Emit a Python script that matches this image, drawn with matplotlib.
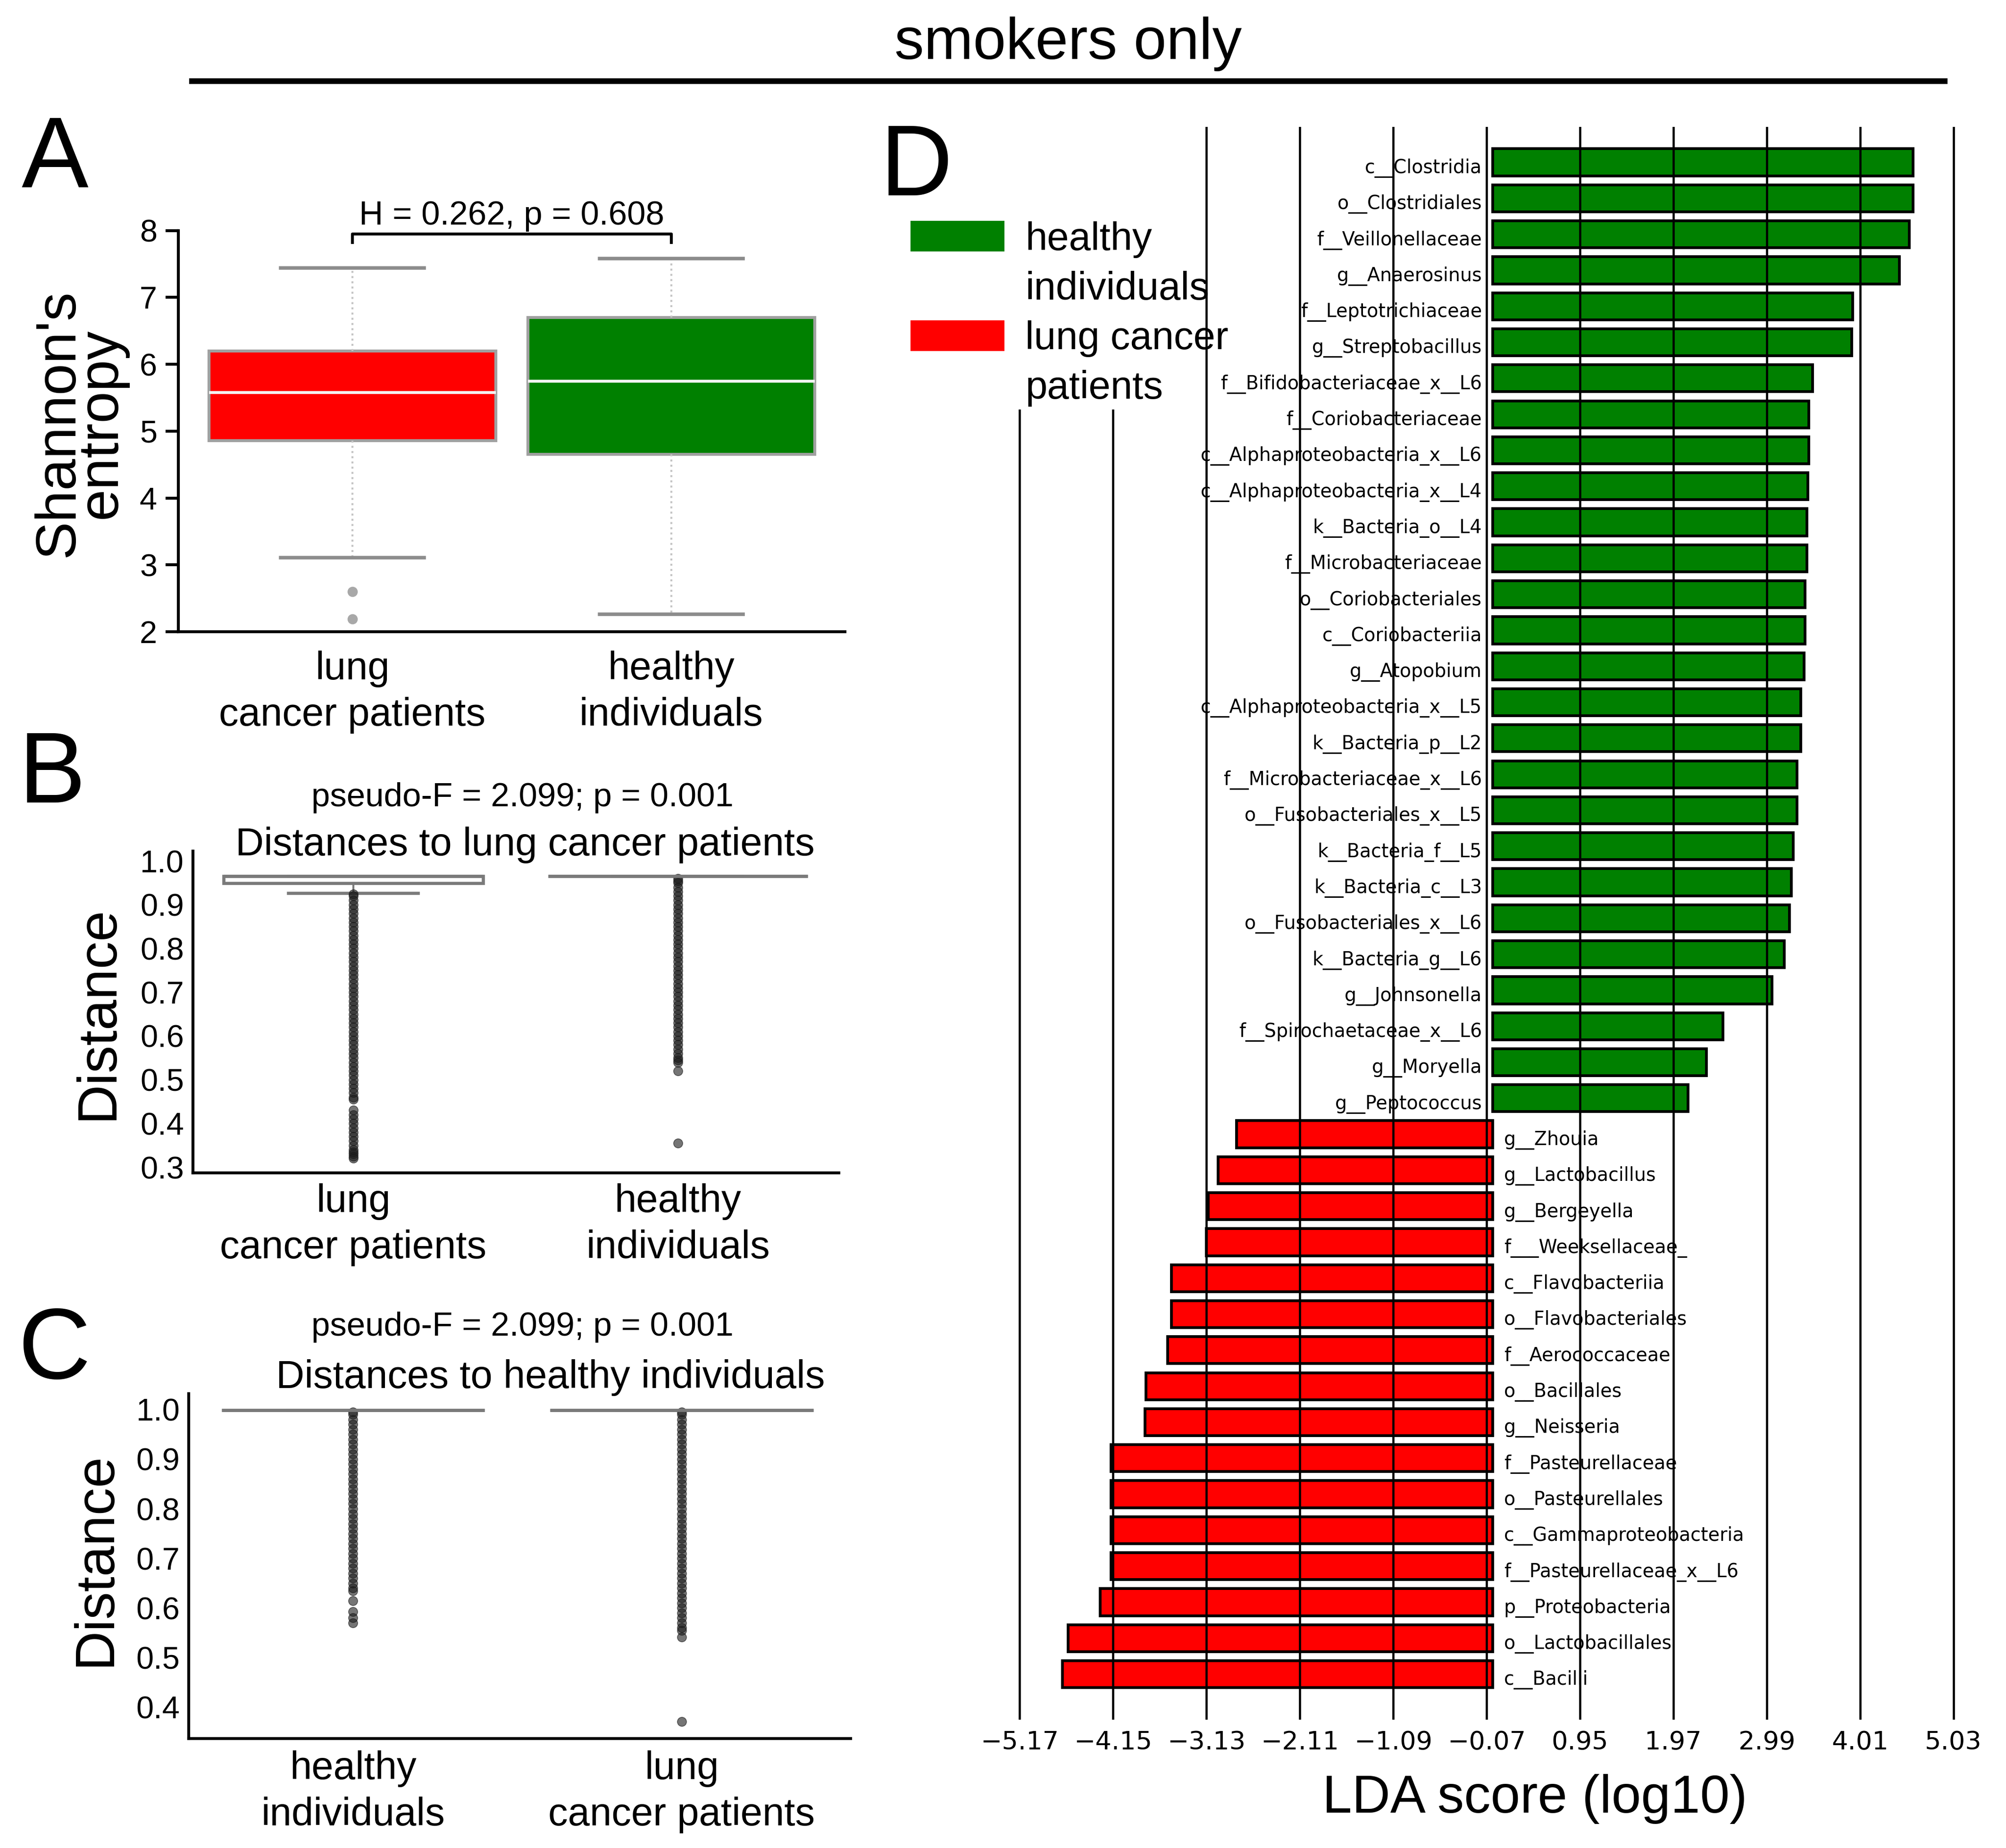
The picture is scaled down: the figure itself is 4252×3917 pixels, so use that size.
import matplotlib
matplotlib.use("Agg")
import matplotlib.pyplot as plt
from matplotlib.patches import Patch, Rectangle
from matplotlib.lines import Line2D

W, H = 4252, 3917
DPI = 300

plt.rcParams['font.family'] = ['Liberation Sans', 'DejaVu Sans']

RED = '#ff0000'
GREEN = '#008000'

# ---- panel A: Shannon's entropy ----
a_labels = ['lung\ncancer patients', 'healthy\nindividuals']
a_q1 = [4.86, 4.65]
a_med = [5.58, 5.75]
a_q3 = [6.20, 6.70]
a_whislo = [3.11, 2.26]
a_whishi = [7.44, 7.58]
a_fliers = [[2.60, 2.19], []]
a_colors = [RED, GREEN]
a_yticks = [2, 3, 4, 5, 6, 7, 8]
a_stat = 'H = 0.262, p = 0.608'

# ---- panel B: distances to lung cancer patients ----
b_labels = ['lung\ncancer patients', 'healthy\nindividuals']
b_q1 = [0.949, 0.965]
b_med = [0.966, 0.965]
b_q3 = [0.966, 0.965]
b_whislo = [0.927, 0.965]
b_whishi = [0.966, 0.965]
b_fliers_lung = [0.925, 0.92, 0.91, 0.90, 0.89, 0.88, 0.87, 0.86, 0.85, 0.84,
                 0.83, 0.82, 0.81, 0.80, 0.79, 0.78, 0.77, 0.76, 0.75, 0.74,
                 0.73, 0.72, 0.71, 0.70, 0.69, 0.68, 0.67, 0.66, 0.65, 0.64,
                 0.63, 0.62, 0.61, 0.60, 0.59, 0.58, 0.57, 0.56, 0.55, 0.54,
                 0.53, 0.52, 0.51, 0.50, 0.49, 0.48, 0.47, 0.46, 0.455, 0.43,
                 0.42, 0.41, 0.40, 0.39, 0.38, 0.37, 0.36, 0.35, 0.34, 0.335,
                 0.33, 0.325, 0.32]
b_fliers_healthy = [0.96, 0.955, 0.95, 0.94, 0.93, 0.92, 0.91, 0.90, 0.89, 0.88,
                    0.87, 0.86, 0.85, 0.84, 0.83, 0.82, 0.81, 0.80, 0.79, 0.78,
                    0.77, 0.76, 0.75, 0.74, 0.73, 0.72, 0.71, 0.70, 0.69, 0.68,
                    0.67, 0.66, 0.65, 0.64, 0.63, 0.62, 0.61, 0.60, 0.59, 0.58,
                    0.57, 0.56, 0.55, 0.545, 0.54, 0.52, 0.355]
b_yticks = [0.3, 0.4, 0.5, 0.6, 0.7, 0.8, 0.9, 1.0]
b_stat = 'pseudo-F = 2.099; p = 0.001'
b_title = 'Distances to lung cancer patients'

# ---- panel C: distances to healthy individuals ----
c_labels = ['healthy\nindividuals', 'lung\ncancer patients']
c_q1 = [0.999, 0.999]
c_med = [0.999, 0.999]
c_q3 = [0.999, 0.999]
c_whislo = [0.999, 0.999]
c_whishi = [0.999, 0.999]
c_fliers_healthy = [0.995, 0.99, 0.98, 0.97, 0.96, 0.95, 0.94, 0.93, 0.92, 0.91,
                    0.90, 0.89, 0.88, 0.87, 0.86, 0.85, 0.84, 0.83, 0.82, 0.81,
                    0.80, 0.79, 0.78, 0.77, 0.76, 0.75, 0.74, 0.73, 0.72, 0.71,
                    0.70, 0.69, 0.68, 0.67, 0.66, 0.65, 0.64, 0.635, 0.615,
                    0.593, 0.58, 0.57]
c_fliers_lung = [0.995, 0.99, 0.98, 0.97, 0.96, 0.95, 0.94, 0.93, 0.92, 0.91,
                 0.90, 0.89, 0.88, 0.87, 0.86, 0.85, 0.84, 0.83, 0.82, 0.81,
                 0.80, 0.79, 0.78, 0.77, 0.76, 0.75, 0.74, 0.73, 0.72, 0.71,
                 0.70, 0.69, 0.68, 0.67, 0.66, 0.65, 0.64, 0.63, 0.62, 0.61,
                 0.60, 0.59, 0.58, 0.57, 0.56, 0.555, 0.541, 0.371]
c_yticks = [0.4, 0.5, 0.6, 0.7, 0.8, 0.9, 1.0]
c_stat = 'pseudo-F = 2.099; p = 0.001'
c_title = 'Distances to healthy individuals'

# ---- panel D: LEfSe LDA scores ----
lda_taxa = [
    'c__Clostridia', 'o__Clostridiales', 'f__Veillonellaceae', 'g__Anaerosinus',
    'f__Leptotrichiaceae', 'g__Streptobacillus', 'f__Bifidobacteriaceae_x__L6',
    'f__Coriobacteriaceae', 'c__Alphaproteobacteria_x__L6',
    'c__Alphaproteobacteria_x__L4', 'k__Bacteria_o__L4', 'f__Microbacteriaceae',
    'o__Coriobacteriales', 'c__Coriobacteriia', 'g__Atopobium',
    'c__Alphaproteobacteria_x__L5', 'k__Bacteria_p__L2',
    'f__Microbacteriaceae_x__L6', 'o__Fusobacteriales_x__L5', 'k__Bacteria_f__L5',
    'k__Bacteria_c__L3', 'o__Fusobacteriales_x__L6', 'k__Bacteria_g__L6',
    'g__Johnsonella', 'f__Spirochaetaceae_x__L6', 'g__Moryella', 'g__Peptococcus',
    'g__Zhouia', 'g__Lactobacillus', 'g__Bergeyella', 'f___Weeksellaceae_',
    'c__Flavobacteriia', 'o__Flavobacteriales', 'f__Aerococcaceae', 'o__Bacillales',
    'g__Neisseria', 'f__Pasteurellaceae', 'o__Pasteurellales',
    'c__Gammaproteobacteria', 'f__Pasteurellaceae_x__L6', 'p__Proteobacteria',
    'o__Lactobacillales', 'c__Bacilli']
lda_scores = [
    4.59, 4.59, 4.55, 4.44, 3.93, 3.92, 3.49, 3.45, 3.45, 3.44, 3.43, 3.43,
    3.41, 3.41, 3.40, 3.36, 3.36, 3.32, 3.32, 3.28, 3.26, 3.24, 3.18, 3.05,
    2.51, 2.33, 2.13,
    -2.80, -3.00, -3.11, -3.13, -3.51, -3.51, -3.55, -3.79, -3.80, -4.17,
    -4.17, -4.17, -4.17, -4.29, -4.64, -4.70]
lda_ticks = [-5.17, -4.15, -3.13, -2.11, -1.09, -0.07, 0.95, 1.97, 2.99, 4.01, 5.03]
legend_labels = ['healthy', 'individuals', 'lung cancer', 'patients']


def px_rect(l, t, r, b):
    return [l / W, 1 - b / H, (r - l) / W, (b - t) / H]


def fxy(x, y):
    return x / W, 1 - y / H


fig = plt.figure(figsize=(W / DPI, H / DPI), dpi=DPI)


def style_box_axes(ax):
    for s in ['top', 'right']:
        ax.spines[s].set_visible(False)
    for s in ['left', 'bottom']:
        ax.spines[s].set_linewidth(1.5)


def make_stats(q1, med, q3, lo, hi, fl):
    return [dict(q1=q1[i], med=med[i], q3=q3[i], whislo=lo[i], whishi=hi[i],
                 fliers=fl[i]) for i in range(len(q1))]


# ---------------- panel A ----------------
ax_a = fig.add_axes(px_rect(378, 488.6, 1791, 1339))
stats_a = make_stats(a_q1, a_med, a_q3, a_whislo, a_whishi, a_fliers)
bp = ax_a.bxp(stats_a, positions=[0, 1], widths=0.9, capwidths=0.45,
              patch_artist=True,
              boxprops=dict(edgecolor='#a0a0a0', linewidth=1.5),
              whiskerprops=dict(color='#c4c4c4', linewidth=1.0, linestyle=':'),
              capprops=dict(color='#8c8c8c', linewidth=1.8),
              medianprops=dict(color='#f4f4f4', linewidth=1.5),
              flierprops=dict(marker='o', markersize=4.2, markerfacecolor='#a8a8a8',
                              markeredgecolor='#a8a8a8'))
for patch, col in zip(bp['boxes'], a_colors):
    patch.set_facecolor(col)
ax_a.set_xlim(-0.546, 1.545)
ax_a.set_ylim(2, 8)
ax_a.set_yticks(a_yticks)
ax_a.set_xticks([0, 1])
ax_a.set_xticklabels(a_labels, linespacing=1.33)
ax_a.tick_params(axis='y', length=6.5, width=1.5, pad=4.3, labelsize=16)
ax_a.tick_params(axis='x', length=0, pad=9.6, labelsize=20)
style_box_axes(ax_a)
# significance bracket between the two groups
ax_a.plot([0, 0, 1, 1], [7.82, 7.95, 7.95, 7.82], color='black', lw=1.5, clip_on=False)
ax_a.text(0.5, 8.09, a_stat, ha='center', va='baseline', fontsize=17)

# ---------------- panels B and C ----------------
dist_box = dict(positions=[0, 1], widths=0.8, capwidths=0.4, patch_artist=True,
                boxprops=dict(facecolor='white', edgecolor='#7a7a7a', linewidth=1.6),
                whiskerprops=dict(color='#7a7a7a', linewidth=1.0),
                capprops=dict(color='#7a7a7a', linewidth=1.6),
                medianprops=dict(color='#7a7a7a', linewidth=1.6),
                flierprops=dict(marker='o', markersize=4.6, markerfacecolor='#1a1a1a',
                                markeredgecolor='#1a1a1a', markeredgewidth=0.4,
                                alpha=0.6))

ax_b = fig.add_axes(px_rect(409, 1804, 1778, 2485.6))
stats_b = make_stats(b_q1, b_med, b_q3, b_whislo, b_whishi,
                     [b_fliers_lung, b_fliers_healthy])
ax_b.bxp(stats_b, **dist_box)
ax_b.set_xlim(-0.494, 1.496)
ax_b.set_ylim(0.2875, 1.0227)
ax_b.set_yticks(b_yticks)
ax_b.set_yticklabels(['%.1f' % v for v in b_yticks])
ax_b.set_xticks([0, 1])
ax_b.set_xticklabels(b_labels, linespacing=1.33)
ax_b.tick_params(axis='y', length=0, pad=4.5, labelsize=16)
ax_b.tick_params(axis='x', length=0, pad=5.3, labelsize=20)
style_box_axes(ax_b)

ax_c = fig.add_axes(px_rect(400, 2954, 1803, 3685))
stats_c = make_stats(c_q1, c_med, c_q3, c_whislo, c_whishi,
                     [c_fliers_healthy, c_fliers_lung])
ax_c.bxp(stats_c, **dist_box)
ax_c.set_xlim(-0.5, 1.514)
ax_c.set_ylim(0.337, 1.032)
ax_c.set_yticks(c_yticks)
ax_c.set_yticklabels(['%.1f' % v for v in c_yticks])
ax_c.set_xticks([0, 1])
ax_c.set_xticklabels(c_labels, linespacing=1.33)
ax_c.tick_params(axis='y', length=0, pad=4.5, labelsize=16)
ax_c.tick_params(axis='x', length=0, pad=6.0, labelsize=20)
style_box_axes(ax_c)

# ---------------- panel D ----------------
ax_d = fig.add_axes(px_rect(2153.5, 269.3, 4149, 3644.7))
ypos = list(range(len(lda_taxa)))
bar_cols = [GREEN if v > 0 else RED for v in lda_scores]
ax_d.barh(ypos, lda_scores, height=0.75, color=bar_cols, edgecolor='black',
          linewidth=1.4)
for y, name, v in zip(ypos, lda_taxa, lda_scores):
    if v > 0:
        ax_d.text(-0.12, y + 0.3, name, ha='right', va='baseline', fontsize=9.5,
                  family='DejaVu Sans')
    else:
        ax_d.text(0.12, y + 0.3, name, ha='left', va='baseline', fontsize=9.5,
                  family='DejaVu Sans')
ax_d.set_xlim(-5.209, 5.073)
ax_d.set_ylim(43.26, -0.98)
ax_d.set_xticks(lda_ticks)
ax_d.set_xticklabels([('%.2f' % t).replace('-', '\u2212') for t in lda_ticks],
                     family='DejaVu Sans')
ax_d.set_yticks([])
ax_d.tick_params(axis='x', length=0, pad=5.3, labelsize=13)
for s in ax_d.spines.values():
    s.set_visible(False)
ax_d.grid(axis='x', color='black', linewidth=1.1)

# white area behind the legend hides the two left grid lines
fig.add_artist(Rectangle(fxy(1880, 868), (2450 - 1880) / W, (868 - 250) / H,
                         transform=fig.transFigure, facecolor='white',
                         edgecolor='none', zorder=1))
leg_handles = [Patch(facecolor=GREEN, edgecolor='none'),
               Patch(facecolor='none', edgecolor='none'),
               Patch(facecolor=RED, edgecolor='none'),
               Patch(facecolor='none', edgecolor='none')]
fig.legend(leg_handles, legend_labels, loc='upper left',
           bbox_to_anchor=fxy(1930, 468), frameon=False, fontsize=20,
           handlelength=2.39, handleheight=0.83, handletextpad=0.53,
           labelspacing=0.32, borderpad=0, borderaxespad=0)

# ---------------- figure texts ----------------
fig.text(*fxy(2264, 125), 'smokers only', ha='center', va='baseline', fontsize=30)
fig.add_artist(Line2D([406.7 / W, 4121.5 / W], [1 - 172 / H] * 2, color='black',
                      lw=2.9, transform=fig.transFigure))

fig.text(*fxy(170, 897), "Shannon's\nentropy", rotation=90, ha='center',
         va='center', fontsize=29, linespacing=0.75, multialignment='center')
fig.text(*fxy(208, 2147), 'Distance', rotation=90, ha='center', va='center',
         fontsize=28)
fig.text(*fxy(203, 3305), 'Distance', rotation=90, ha='center', va='center',
         fontsize=28)

fig.text(*fxy(1107, 1709), b_stat, ha='center', va='baseline', fontsize=17)
fig.text(*fxy(1113, 1813), b_title, ha='center', va='baseline', fontsize=20)
fig.text(*fxy(1107, 2831), c_stat, ha='center', va='baseline', fontsize=17)
fig.text(*fxy(1167, 2942), c_title, ha='center', va='baseline', fontsize=20)

fig.text(*fxy(3253, 3842), 'LDA score (log10)', ha='center', va='baseline',
         fontsize=27)

for letter, x, y in [('A', 46, 397), ('B', 40, 1701), ('C', 38, 2922), ('D', 1866, 414)]:
    fig.text(*fxy(x, y), letter, ha='left', va='baseline', fontsize=51)

fig.savefig('out.png', dpi=DPI)
